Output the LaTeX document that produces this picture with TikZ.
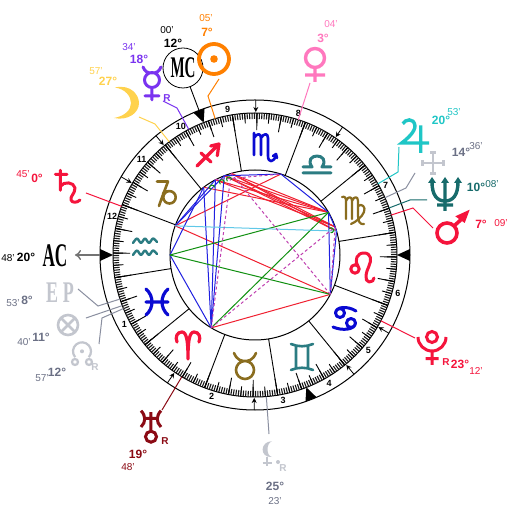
\documentclass[tikz,border=0pt]{standalone}
\usepackage{fontspec}
\setmainfont{Liberation Sans}
\newfontfamily\serifcond{Liberation Serif}
\usetikzlibrary{arrows.meta}
\definecolor{cfire}{HTML}{F5143C}
\definecolor{cearth}{HTML}{8A6D1F}
\definecolor{cair}{HTML}{2B7C82}
\definecolor{cwater}{HTML}{0A0AD2}
\definecolor{csun}{HTML}{FF8000}
\definecolor{cmerc}{HTML}{7A33F0}
\definecolor{cmoon}{HTML}{FFD24D}
\definecolor{cven}{HTML}{FF78BE}
\definecolor{cjup}{HTML}{1FC6C6}
\definecolor{cnep}{HTML}{176B6B}
\definecolor{cura}{HTML}{8B0A14}
\definecolor{cgl}{HTML}{C3C6CE}
\definecolor{cgt}{HTML}{6B7085}
\definecolor{cgline}{HTML}{8A8FA0}
\definecolor{asr}{HTML}{F02030}
\definecolor{asb}{HTML}{2020E0}
\definecolor{asg}{HTML}{109010}
\definecolor{asc}{HTML}{60C8E8}
\definecolor{asm}{HTML}{C040B0}
\tikzset{
 gl/.style={line cap=round,line join=round},
 deg/.style={font=\bfseries\fontsize{12}{12}\selectfont,inner sep=0pt},
 mins/.style={font=\fontsize{10}{10}\selectfont,inner sep=0pt},
 rr/.style={font=\bfseries\fontsize{10}{10}\selectfont,inner sep=0pt},
 tickl/.style={line width=1.1pt,black!90},
 lead/.style={line width=1pt},
 as/.style={line width=1pt},
 asd/.style={line width=1pt,asm,dash pattern=on 3pt off 2.5pt},
 pics/gAries/.style={code={\draw[gl,cfire,line width=3.2pt] (-11,3) .. controls (-13,8) and (-11,13) .. (-6,13) .. controls (-1,13) and (0,2) .. (0,-14) .. controls (0,2) and (1,13) .. (6,13) .. controls (11,13) and (13,8) .. (11,3);}},
 pics/gTaurus/.style={code={\draw[gl,cearth,line width=2.6pt] (0,-4) circle (9) (-11,13) .. controls (-8,6) and (-4,5) .. (0,5) .. controls (4,5) and (8,6) .. (11,13);}},
 pics/gGemini/.style={code={\draw[gl,cair,line width=2.6pt] (-6,-10)--(-6,10) (6,-10)--(6,10) (-11,13) .. controls (-4,10) and (4,10) .. (11,13) (-11,-13) .. controls (-4,-10) and (4,-10) .. (11,-13);}},
 pics/gCancer/.style={code={\draw[gl,cwater,line width=3pt] (-4,6) circle (4.5) (7,-4) circle (4.5) (-8.5,6) .. controls (-8,13) and (4,13) .. (12,8) (11.5,-4) .. controls (11,-11) and (-2,-12) .. (-11,-8);}},
 pics/gLeo/.style={code={\draw[gl,cfire,line width=3pt] (-8,-2) circle (4.2) (-5,1) .. controls (-9,7) and (-6,14) .. (1,14) .. controls (8,14) and (9,7) .. (6,1) .. controls (3,-5) and (1,-14) .. (6,-15) .. controls (9,-15.5) and (11,-13) .. (11,-11);}},
 pics/gVirgo/.style={code={\draw[gl,cearth,line width=2.2pt] (-11,13) .. controls (-8,14) and (-7,12) .. (-7,9) -- (-7,-9) (-7,9) .. controls (-5,14) and (-1,14) .. (-1,9) -- (-1,-9) (-1,9) .. controls (1,14) and (5,14) .. (5,9) -- (5,-6) .. controls (5,-11) and (7,-15) .. (11,-14) (5,4) .. controls (9,7) and (13,3) .. (11,-2) .. controls (9,-7) and (3,-12) .. (-2,-14);}},
 pics/gScorpio/.style={code={\draw[gl,cwater,line width=2.6pt] (-11,15) -- (-11,-7) (-11,10) .. controls (-8,15) and (-4,15) .. (-4,10) -- (-4,-7) (-4,10) .. controls (-1,15) and (3,15) .. (3,10) -- (3,-8) .. controls (3,-15) and (9,-15) .. (11,-7) (8,-8) -- (11,-6) -- (12,-10);}},
 pics/gLibra/.style={code={\draw[gl,cair,line width=3pt] (-14,-8)--(14,-8) (-14,-2) -- (-5,-2) .. controls (-10,5) and (-5,9) .. (0,9) .. controls (5,9) and (10,5) .. (5,-2) -- (14,-2);}},
 pics/gSag/.style={code={\draw[gl,cfire,line width=3.2pt] (-11,-11)--(11,11) (2.7,9)--(11,11)--(9.3,-0.7) (-7,2)--(3,-7);}},
 pics/gCapri/.style={code={\draw[gl,cearth,line width=2.6pt] (-9,12.5)--(2,12.5) .. controls (0,7) and (-4,-3) .. (-7,-12) (-3,1) .. controls (-1,2.5) and (1,2.9) .. (3.5,2.9) (3.5,-3.3) circle (6.2);}},
 pics/gAqua/.style={code={\draw[gl,cair,line width=2.4pt] plot[smooth] coordinates {(-12,4)(-8,8.5)(-4,4)(0,8.5)(4,4)(8,8.5)(12,5)} plot[smooth] coordinates {(-12,-8)(-8,-3.5)(-4,-8)(0,-3.5)(4,-8)(8,-3.5)(12,-7)};}},
 pics/gPisces/.style={code={\draw[gl,cwater,line width=3.2pt] (-11,13) .. controls (-3,6) and (-3,-6) .. (-11,-13) (11,13) .. controls (3,6) and (3,-6) .. (11,-13) (-11,0)--(11,0);}},
 pics/gSun/.style={code={\draw[csun,line width=3.8pt] (0,0) circle (15); \fill[csun] (0,0) circle (3.8);}},
 pics/gMerc/.style={code={\draw[gl,cmerc,line width=3pt] (0,3) circle (7.5) (-9,16) .. controls (-7,11) and (-4,10) .. (0,10) .. controls (4,10) and (7,11) .. (9,16) (0,-4.5)--(0,-17) (-7,-13)--(7,-13);}},
 pics/gMoon/.style={code={\fill[cmoon] (-10,15.5) .. controls (6,19) and (14,8) .. (14,0) .. controls (14,-10) and (3,-18) .. (-11,-15) .. controls (0,-13) and (6,-7) .. (6,0) .. controls (6,7) and (0,14) .. (-10,15.5) -- cycle;}},
 pics/gVenus/.style={code={\draw[cven,line width=3.4pt] (0,1) circle (9.5) (0,-8.5)--(0,-23) (-10,-16)--(10,-16);}},
 pics/gJup/.style={code={\draw[cjup,line width=3.4pt] (-12.3,8.3) .. controls (-10,12.5) and (-1,15) .. (0,6) .. controls (0,0) and (-8,-7) .. (-13.3,-11) -- (14,-11) (5.7,6.7)--(5.7,-21);}},
 pics/gChir/.style={code={\draw[cgl,line width=2.2pt] (0,-10.5)--(0,10.5) (-10.5,0)--(10.5,0) (-3,10.5)--(3,10.5) (-3,-10.5)--(3,-10.5) (-10.5,-3)--(-10.5,3) (10.5,-3)--(10.5,3);}},
 pics/gNep/.style={code={\draw[cnep,line width=3.4pt] (-13,11) .. controls (-13,-2) and (-8,-8) .. (0,-8) .. controls (8,-8) and (13,-2) .. (13,11) (0,12)--(0,-18) (-8,-12)--(8,-12); \fill[cnep] (-17,10)--(-13,16)--(-9,10)--cycle (-4,10)--(0,16)--(4,10)--cycle (9,10)--(13,16)--(17,10)--cycle;}},
 pics/gMars/.style={code={\draw[cfire,line width=3.6pt] (0,0) circle (10) (7,7)--(18,17); \fill[cfire] (22.7,23.3)--(8.3,16.7)--(17.7,10)--cycle;}},
 pics/gSat/.style={code={\draw[gl,cfire,line width=3pt] (-6.7,16.7)--(-6.7,-3.3) (-11.7,12.7)--(0,12.7) (-6.7,0.7) .. controls (-3,6) and (7,5) .. (8,-1) .. controls (8,-7) and (3,-9) .. (4,-13) .. controls (5,-16) and (10,-16) .. (13,-13);}},
 pics/gFort/.style={code={\draw[cgl,line width=2.6pt] (0,0) circle (10) (-7,-7)--(7,7) (-7,7)--(7,-7);}},
 pics/gNode/.style={code={\draw[cgl,line width=2.2pt] (-6.9,-4.1) arc[start angle=220,delta angle=-260,radius=9] (-7,-9) circle (3) (7,-9) circle (3); \fill[cgl] (0,1.7) circle (2);}},
 pics/gUra/.style={code={\draw[cura,line width=3pt] (-10,14.3) .. controls (-5,9) and (-5,3) .. (-10,-2) (10,14.3) .. controls (5,9) and (5,3) .. (10,-2) (-7,6.7)--(7,6.7) (0,13)--(0,-6) (0,-11.7) circle (5.5);}},
 pics/gLil/.style={code={\fill[cgl] (5,11.7) .. controls (-7,12) and (-8,-5) .. (5,-4) .. controls (-1,-3) and (-1,10) .. (5,11.7) -- cycle (11,-9) circle (2); \draw[cgl,line width=2.4pt] (0,-4)--(0,-13) (-4.5,-10)--(4.5,-10);}},
 pics/gPlu/.style={code={\draw[cfire,line width=3pt] (0,10) circle (5.5) (-14,10) arc[start angle=180,end angle=360,radius=14] (0,-4)--(0,-18) (-6.5,-11.7)--(6.5,-11.7);}}
}
\begin{document}
\begin{tikzpicture}[x=1pt,y=1pt]
\useasboundingbox (-255,-255) rectangle (255,255);
\fill[white] (-255,-255) rectangle (255,255);
% wheel
\draw[line width=1pt] (0,0) circle (155);
\draw[line width=1pt] (0,0) circle (142);
\foreach \l in {0,...,359} {\draw[tickl] ({\l-140.8}:136) -- ({\l-140.8}:142);}
\foreach \l in {0,5,...,355} {\draw[line width=0.9pt] ({\l-140.8}:132) -- ({\l-140.8}:142);}
\foreach \l in {0,10,...,350} {\draw[line width=0.9pt] ({\l-140.8}:125) -- ({\l-140.8}:142);}
\foreach \l in {0,30,...,330} {\draw[line width=0.9pt] ({\l-140.8}:85) -- ({\l-140.8}:142);}
\draw[line width=1pt,fill=white] (0,0) circle (85);
% house cusp arrows
\foreach \a in {55.6,89.7,129.7,149.7,235.6,269.7,309.7,329.7} {\draw[line width=0.8pt,-{Stealth[length=5pt,width=5pt]}] (\a:155) -- (\a:143);}
% house numbers
\foreach \a/\n in {208/1,253/2,281/3,300/4,320/5,345/6,28/7,73/8,100.7/9,120/10,140/11,165/12} {\node[inner sep=0pt,font=\bfseries\fontsize{9}{9}\selectfont] (h\n) at (\a:148) {\n};}
% aspect coordinates
\foreach \n/\a in {Su/106.3,Me/117.8,Mo/127.15,MC/111.2,Ve/72.27,Ju/30.08,Ne/19.33,Ma/16.35,Pl/332.4,Sa/159.95,AC/180,Ur/239} {\coordinate (a\n) at (\a:85);\coordinate (r\n) at (\a:142);}
% aspects
\foreach \p/\q in {Su/Ma,Su/Ne,Su/Ju,MC/Ma,MC/Ne,MC/Ju,Me/Ju,Me/Ne,Mo/Ju,Sa/Ve,Sa/Pl,Ur/Pl} {\draw[as,asr] (a\p) -- (a\q);}
\foreach \p/\q in {Ur/Mo,Ur/Me,Ur/MC,AC/Mo,AC/Ur,Sa/Me,Sa/MC,Ve/Ju,MC/Ve,Ju/Pl,Ma/Pl,Ju/Ma} {\draw[as,asb] (a\p) -- (a\q);}
\foreach \p/\q in {AC/Ju,AC/Pl,Ur/Ju} {\draw[as,asg] (a\p) -- (a\q);}
\draw[as,asc] (aSa) -- (aMa);
\foreach \p/\q in {Pl/Su,Ur/Ne,Ur/Su,Ne/Pl,Me/Ve} {\draw[asd] (a\p) -- (a\q);}
\foreach \a in {109,114.5,122.5,18} {\draw[as,asg] ([shift={(\a-120:2.5)}]\a:80) arc[start angle=\a-120,delta angle=240,radius=2.5];}
% sign glyph positions and leader points in reference pixels
\begin{scope}[shift={(-255,255)},yscale=-1]
\coordinate (pA) at (188,345); \coordinate (pB) at (245,366); \coordinate (pC) at (302,357);
\coordinate (pD) at (344,319); \coordinate (pE) at (363,267); \coordinate (pF) at (353,210);
\coordinate (pG) at (317,165); \coordinate (pH) at (265,148); \coordinate (pI) at (208,155);
\coordinate (pJ) at (166,194); \coordinate (pK) at (145,247); \coordinate (pL) at (157,302);
\coordinate (qSu) at (214,59); \coordinate (qMe) at (152,83); \coordinate (qMo) at (125,103);
\coordinate (qVe) at (315,59); \coordinate (qJu) at (415,132); \coordinate (qCh) at (433,163);
\coordinate (qNe) at (445,193); \coordinate (qMa) at (447,233); \coordinate (qSa) at (67,187);
\coordinate (qFo) at (68,325); \coordinate (qNo) at (82,353); \coordinate (qUr) at (151,425);
\coordinate (qLi) at (267,453); \coordinate (qPl) at (432,347);
% leader bends
\coordinate (l1a) at (219,79); \coordinate (l1b) at (208,96);
\coordinate (l2a) at (163,101); \coordinate (l2b) at (177,108);
\coordinate (l3a) at (139,117); \coordinate (l3b) at (155,124);
\coordinate (l4a) at (310,83);
\coordinate (l5a) at (399,147); \coordinate (l5b) at (398,172);
\coordinate (l6a) at (415,173); \coordinate (l6b) at (406,188);
\coordinate (l7a) at (427,200); \coordinate (l7b) at (410,200);
\coordinate (l8a) at (433,228); \coordinate (l8b) at (413,208);
\coordinate (l9a) at (86,193);
\coordinate (l10a) at (78,289); \coordinate (l10b) at (98,306);
\coordinate (l11a) at (86,318);
\coordinate (l12a) at (99,344); \coordinate (l12b) at (102,318);
\coordinate (l13a) at (162,410);
\coordinate (l14a) at (269,434);
\coordinate (l15a) at (415,338);
\coordinate (acEnd) at (75,255);
% big letter nodes
\node[circle,draw,fill=white,line width=0.8pt,inner sep=0pt,minimum size=40pt] (nMC) at (183,68) {\scalebox{0.5}[1]{\serifcond\bfseries\fontsize{30}{30}\selectfont MC}};
\node[inner sep=0pt] (nAC) at (55,256) {\scalebox{0.52}[1]{\serifcond\bfseries\fontsize{33}{33}\selectfont AC}};
\node[inner sep=0pt,text=cgl] (nEP) at (60,293) {\scalebox{0.6}[1]{\serifcond\bfseries\fontsize{30}{30}\selectfont E P}};
% labels
\node[deg,text=csun] (t1) at (207,32) {7°}; \node[mins,text=csun] (t2) at (206,18) {05'};
\node[deg] (t3) at (173,43) {12°}; \node[mins] (t4) at (167,30) {00'};
\node[deg,text=cmerc] (t5) at (139,59) {18°}; \node[mins,text=cmerc] (t6) at (129,47) {34'}; \node[rr,text=cmerc] (t7) at (167,98) {R};
\node[deg,text=cmoon] (t8) at (108,81) {27°}; \node[mins,text=cmoon] (t9) at (96,71) {57'};
\node[deg,text=cven] (t10) at (323,38) {3°}; \node[mins,text=cven] (t11) at (331,24) {04'};
\node[deg,text=cjup] (t12) at (441,120) {20°}; \node[mins,text=cjup] (t13) at (454,112) {53'};
\node[deg,text=cgt] (t14) at (461,152) {14°}; \node[mins,text=cgt] (t15) at (476,146) {36'};
\node[deg,text=cnep] (t16) at (476,187) {10°}; \node[mins,text=cnep] (t17) at (492,184) {08'};
\node[deg,text=cfire] (t18) at (481,224) {7°}; \node[mins,text=cfire] (t19) at (501,223) {09'};
\node[deg,text=cfire] (t20) at (37,178) {0°}; \node[mins,text=cfire] (t21) at (23,174) {45'};
\node[deg] (t22) at (26,257) {20°}; \node[mins] (t23) at (8,258) {48'};
\node[deg,text=cgt] (t24) at (27,300) {8°}; \node[mins,text=cgt] (t25) at (13,303) {53'};
\node[deg,text=cgt] (t26) at (41,337) {11°}; \node[mins,text=cgt] (t27) at (24,342) {40'};
\node[deg,text=cgt] (t28) at (57,372) {12°}; \node[mins,text=cgt] (t29) at (42,378) {57'}; \node[rr,text=cgl] (t30) at (95,367) {R};
\node[deg,text=cura] (t31) at (138,454) {19°}; \node[mins,text=cura] (t32) at (128,467) {48'}; \node[rr,text=cura] (t33) at (165,441) {R};
\node[deg,text=cgt] (t34) at (275,486) {25°}; \node[mins,text=cgt] (t35) at (275,501) {23'}; \node[rr,text=cgl] (t36) at (283,468) {R};
\node[deg,text=cfire] (t37) at (460,364) {23°}; \node[mins,text=cfire] (t38) at (476,371) {12'}; \node[rr,text=cfire] (t39) at (446,362) {R};
\end{scope}
% sign glyphs
\pic at (pA) {gAries}; \pic at (pB) {gTaurus}; \pic at (pC) {gGemini}; \pic at (pD) {gCancer};
\pic at (pE) {gLeo}; \pic at (pF) {gVirgo}; \pic at (pG) {gLibra}; \pic at (pH) {gScorpio};
\pic at (pI) {gSag}; \pic at (pJ) {gCapri}; \pic at (pK) {gAqua}; \pic at (pL) {gPisces};
% leaders
\draw[lead,csun] (l1a) -- (l1b) -- (rSu);
\draw[lead,cmerc] (l2a) -- (l2b) -- (rMe);
\draw[lead,cmoon] (l3a) -- (l3b) -- (rMo);
\draw[lead,cven] (l4a) -- (rVe);
\draw[lead,cjup] (l5a) -- (l5b) -- (rJu);
\draw[lead,cgline] (l6a) -- (l6b) -- (23.8:142);
\draw[lead,cnep] (l7a) -- (l7b) -- (rNe);
\draw[lead,cfire] (l8a) -- (l8b) -- (rMa);
\draw[lead,cfire] (l9a) -- (rSa);
\draw[lead,cgline] (l10a) -- (l10b) -- (198.08:142);
\draw[lead,cgline] (l11a) -- (200.87:142);
\draw[lead,cgline] (l12a) -- (l12b) -- (202.15:142);
\draw[lead,cura] (l13a) -- (rUr);
\draw[lead,cgline] (l14a) -- (274.58:142);
\draw[lead,cfire] (l15a) -- (rPl);
\draw[line width=1.4pt,black!55,-{To[length=6pt,width=10pt]}] (180:155) -- (acEnd);
\draw[line width=0.9pt] (nMC) -- (111.2:145);
% angle triangles
\foreach \a in {0,111.2,180,291.2} {\fill[black] (\a:142) -- ({\a+2.2}:155) -- ({\a-2.2}:155) -- cycle;}
% planets
\pic at (qSu) {gSun}; \pic at (qMe) {gMerc}; \pic at (qMo) {gMoon}; \pic at (qVe) {gVenus};
\pic at (qJu) {gJup}; \pic at (qCh) {gChir}; \pic at (qNe) {gNep}; \pic at (qMa) {gMars};
\pic at (qSa) {gSat}; \pic at (qFo) {gFort}; \pic at (qNo) {gNode}; \pic at (qUr) {gUra};
\pic at (qLi) {gLil}; \pic at (qPl) {gPlu};
\end{tikzpicture}
\end{document}
